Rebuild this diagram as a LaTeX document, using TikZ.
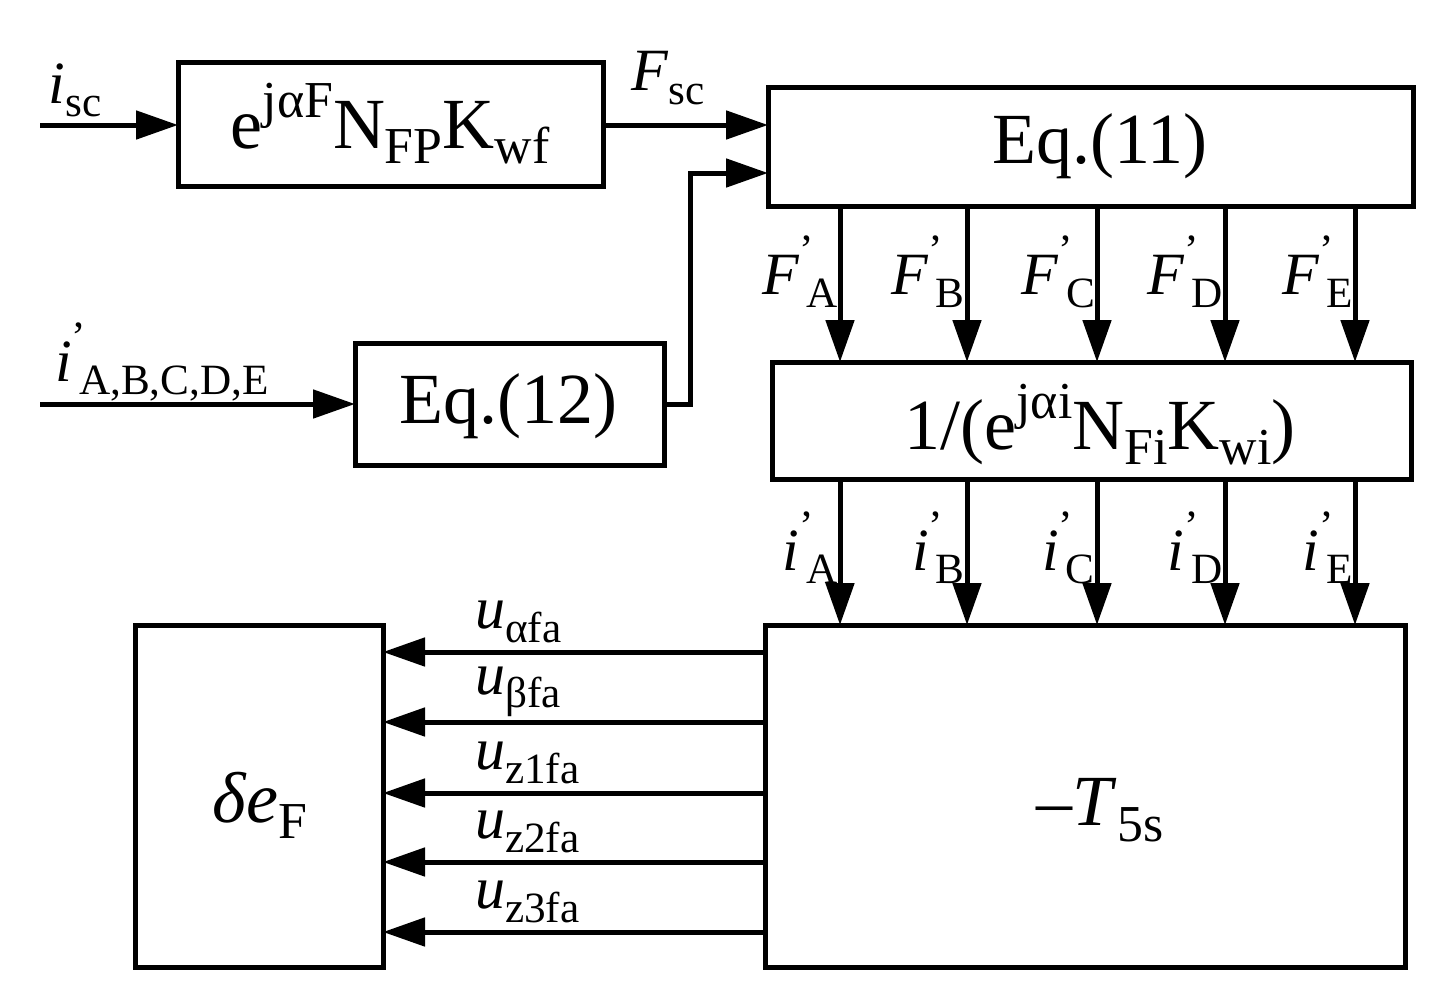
\documentclass[tikz,border=0pt]{standalone}
\usepackage{fontspec}
\setmainfont{Liberation Serif}
\usetikzlibrary{arrows.meta}
\newcommand{\ssb}[1]{\raisebox{-0.22em}{\scalebox{0.72}{#1}}}
\newcommand{\ssp}[1]{\raisebox{0.42em}{\scalebox{0.72}{#1}}}
\newcommand{\prm}{\rlap{\raisebox{0.5em}{\scalebox{0.72}{'}}}}
\begin{document}
\begin{tikzpicture}[x=1pt,y=-1pt,
  box/.style={draw,line width=5pt,inner sep=0pt},
  ar/.style={line width=5pt,-{Triangle[length=42pt,width=28pt]}},
  big/.style={font=\fontsize{72}{76}\selectfont},
  lab/.style={font=\fontsize{60}{64}\selectfont,inner sep=0pt}]
\useasboundingbox (0,0) rectangle (1448,1004);
\draw[box] (178,62) rectangle (603,186);
\node[big] (b1) at (390,124) {e\ssp{jαF}N\ssb{FP}K\ssb{wf}};
\draw[box] (768,87) rectangle (1413,206);
\node[big] (b2) at (1100,146) {Eq.(11)};
\draw[box] (355,343) rectangle (664,465);
\node[big] (b3) at (508,406) {Eq.(12)};
\draw[box] (772,362) rectangle (1411,479);
\node[big] (b4) at (1100,425) {1/(e\ssp{jαi}N\ssb{Fi}K\ssb{wi})};
\draw[box] (135,625) rectangle (383,967);
\node[big] (b5) at (260,805) {\textit{δe}\ssb{F}};
\draw[box] (765,625) rectangle (1405,967);
\node[big] (b6) at (1100,810) {–\textit{T}\ssb{5s}};
\coordinate (i1) at (40,125); \coordinate (i2) at (40,404);
\draw[ar] (i1) -- (178,125);
\draw[ar] (603,125) -- (768,125);
\draw[ar] (i2) -- (355,404);
\draw[ar] (664,404) -- (690,404) -- (690,173) -- (768,173);
\node[lab] at (75,90) {\textit{i}\ssb{sc}};
\node[lab] at (668,78) {\textit{F}\ssb{sc}};
\node[lab,anchor=west] at (55,362) {\textit{i}\prm\ssb{\,A,B,C,D,E}};
\foreach \x/\l in {840/A,967/B,1097/C,1225/D,1355/E}{
  \draw[ar] (\x,206) -- (\x,362);
  \draw[ar] (\x,479) -- (\x,625);
  \node[lab,anchor=east] at (\x-2,272) {\textit{F}\prm\ssb{\,\l}};
  \node[lab,anchor=east] at (\x-2,548) {\textit{i}\prm\ssb{\,\l}};
}
\foreach \y/\l in {652/αfa,722/βfa,793/z1fa,862/z2fa,932/z3fa}{
  \draw[ar] (765,\y) -- (383,\y);
  \node[lab,anchor=west] at (475,\y-30) {\textit{u}\ssb{\l}};
}
\end{tikzpicture}
\end{document}
